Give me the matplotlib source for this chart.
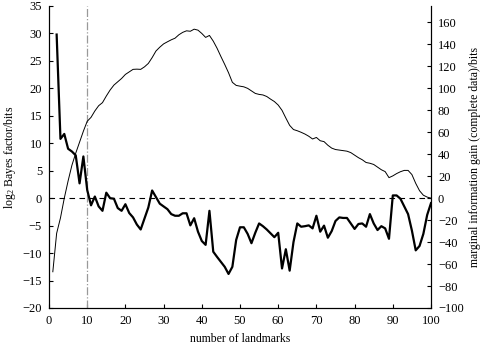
import matplotlib
matplotlib.use('Agg')
import matplotlib.pyplot as plt
import numpy as np

plt.rcParams['font.family'] = ['Liberation Serif', 'DejaVu Serif']
plt.rcParams['mathtext.fontset'] = 'custom'
plt.rcParams['mathtext.rm'] = 'Liberation Serif'
plt.rcParams['mathtext.it'] = 'Liberation Serif:italic'
plt.rcParams['font.size'] = 8.5

# log2 Bayes factor (left axis), landmarks 2..100
bayes_n = list(range(2, 101))
bayes_bits = [
  29.8, 10.8, 11.7, 9.0, 8.5, 7.8, 2.7, 7.6, 1.5, -1.3,
  0.3, -1.5, -2.3, 1.0, 0.0, -0.1, -1.8, -2.3, -1.1, -2.7,
  -3.5, -4.8, -5.7, -3.7, -1.7, 1.4, 0.2, -1.0, -1.5, -2.0,
  -2.9, -3.2, -3.2, -2.75, -2.75, -4.95, -3.65, -6.1, -7.8, -8.5,
  -2.3, -9.75, -10.7, -11.6, -12.5, -13.8, -12.5, -7.6, -5.3, -5.3,
  -6.5, -8.2, -6.3, -4.6, -5.1, -5.7, -6.4, -7.1, -6.3, -12.8,
  -9.3, -13.2, -8.0, -4.6, -5.2, -5.1, -4.95, -5.5, -3.2, -6.1,
  -5.0, -7.2, -6.0, -4.15, -3.5, -3.6, -3.6, -4.6, -5.6, -4.7,
  -4.6, -5.2, -2.9, -4.6, -5.8, -5.1, -5.5, -7.4, 0.5, 0.5,
  -0.1, -1.5, -2.9, -5.9, -9.5, -8.7, -6.5, -3.05, -0.9,
]

# marginal information gain (right axis), landmarks 1..100
gain_n = list(range(1, 101))
gain_bits = [
  -67, -32, -18, 0, 15.7, 30, 41, 51, 61, 70,
  73.6, 79.4, 84.2, 87, 93, 98.5, 103, 106, 109, 112.7,
  115, 117.3, 117.5, 117.3, 119.6, 122.7, 128, 134, 137.5, 140.5,
  142.4, 144.2, 145.7, 148.8, 151, 152.4, 152, 153.9, 153, 150,
  146.4, 148.2, 143, 136.5, 129, 121.8, 114.2, 105.5, 102.7, 102,
  101.4, 100, 97.7, 95.4, 94.5, 94, 92.6, 90.2, 88, 84.8,
  80, 73, 66.3, 62.5, 61.4, 60, 58.4, 56.4, 53.9, 55.3,
  52.3, 51.5, 48.2, 45.6, 44.3, 43.8, 43.3, 42.8, 41.5, 39.2,
  36.9, 35, 32.5, 31.8, 30.7, 28.3, 25.9, 24.2, 18.7, 20.3,
  22.4, 24.1, 25.3, 25.3, 21.5, 13.5, 6.8, 2.7, 1, 0,
]

fig = plt.figure(figsize=(4.82, 3.43), dpi=100)
ax1 = fig.add_axes([49/482, 1 - 308/343, 382/482, 302/343])
ax2 = ax1.twinx()

ax1.axhline(0, color='black', linestyle=(0, (5, 4)), linewidth=0.8)
ax1.axvline(10, color='#999999', linestyle='-.', linewidth=0.9)
ax1.plot(bayes_n, bayes_bits, color='black', linewidth=1.6)
ax2.plot(gain_n, gain_bits, color='black', linewidth=0.7)

ax1.set_xlim(0, 100)
ax1.set_ylim(-20, 35)
ax2.set_ylim(-100, 175)
ax1.set_xticks(np.arange(0, 101, 10))
ax1.set_yticks(np.arange(-20, 36, 5))
ax2.set_yticks(np.arange(-100, 161, 20))

for ax in (ax1, ax2):
  ax.spines['top'].set_visible(False)
  ax.tick_params(direction='in', length=3, width=0.8, labelsize=9, pad=5)
  for s in ax.spines.values():
    s.set_linewidth(0.8)

ax1.set_xlabel('number of landmarks', fontsize=8.5, labelpad=4)
ax1.set_ylabel('log$_2$ Bayes factor/bits', fontsize=8.5, labelpad=3)
ax2.set_ylabel('marginal information gain (complete data)/bits', fontsize=8.5, labelpad=4)

fig.savefig('out.png', dpi=100)
